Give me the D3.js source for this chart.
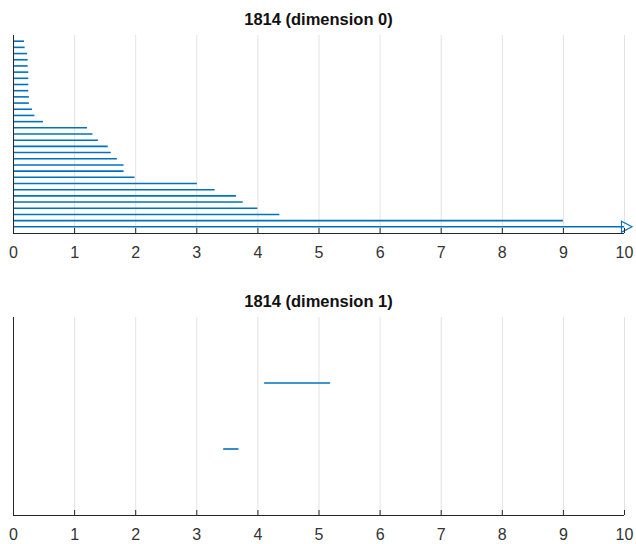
<!DOCTYPE html>
<html>
<head>
<meta charset="utf-8">
<script src="https://cdn.jsdelivr.net/npm/d3@7"></script>
<style>
  html, body { margin: 0; padding: 0; background: #fff; }
  svg { display: block; }
  text { font-family: "Liberation Sans", Arial, Helvetica, sans-serif; }
</style>
</head>
<body>
<svg id="chart" width="636" height="544"></svg>
<script>
// Persistence barcode of point cloud 1814 — each interval is [birth, death).
// Dimension 0 intervals, listed bottom to top; death = Infinity means the class never dies.
const dim0Birth = [0, 0, 0, 0, 0, 0, 0, 0, 0, 0, 0, 0, 0, 0, 0, 0, 0, 0, 0, 0, 0, 0, 0, 0, 0, 0, 0, 0, 0, 0, 0];
const dim0Death = [Infinity, 9.0, 4.36, 4.0, 3.76, 3.65, 3.30, 3.01, 1.99, 1.81, 1.81, 1.70, 1.60, 1.55, 1.39, 1.30, 1.21,
                   0.49, 0.35, 0.31, 0.26, 0.26, 0.25, 0.25, 0.25, 0.25, 0.24, 0.24, 0.23, 0.19, 0.18];
// Dimension 1 intervals, listed bottom to top.
const dim1Birth = [3.44, 4.11];
const dim1Death = [3.69, 5.19];

const xTicks = [0, 1, 2, 3, 4, 5, 6, 7, 8, 9, 10];
const xMax = 10;
const titles = ["1814 (dimension 0)", "1814 (dimension 1)"];

const svg = d3.select("#chart");
const left = 13, right = 624;
const panels = [
  { top: 35, bottom: 233, births: dim0Birth, deaths: dim0Death, title: titles[0], titleY: 25 },
  { top: 317, bottom: 515, births: dim1Birth, deaths: dim1Death, title: titles[1], titleY: 307 }
];

const barColor = "#0072BD";
const axisColor = "#262626";

panels.forEach(p => {
  const n = p.births.length;
  const x = d3.scaleLinear().domain([0, xMax]).range([left, right]);
  const y = d3.scaleLinear().domain([0, n + 1]).range([p.bottom, p.top]);
  const g = svg.append("g");

  // vertical grid
  g.selectAll("line.grid").data(xTicks).join("line")
    .attr("class", "grid")
    .attr("x1", d => x(d) + 0.5).attr("x2", d => x(d) + 0.5)
    .attr("y1", p.top).attr("y2", p.bottom)
    .attr("stroke", "#e3e3e3").attr("stroke-width", 1);

  // bars
  const idx = d3.range(n);
  g.selectAll("line.bar").data(idx).join("line")
    .attr("class", "bar")
    .attr("x1", i => x(p.births[i]))
    .attr("x2", i => x(Math.min(p.deaths[i], xMax)))
    .attr("y1", i => y(i + 1)).attr("y2", i => y(i + 1))
    .attr("stroke", barColor).attr("stroke-width", 1.6);

  // arrow marker for intervals that never die
  g.selectAll("path.inf").data(idx.filter(i => !isFinite(p.deaths[i]))).join("path")
    .attr("class", "inf")
    .attr("d", i => {
      const cx = x(xMax) + 1, cy = y(i + 1);
      return `M${cx - 3.5},${cy - 5.5}L${cx + 7},${cy}L${cx - 3.5},${cy + 5.5}Z`;
    })
    .attr("fill", "none").attr("stroke", barColor).attr("stroke-width", 1.2);

  // x axis with inward ticks
  const ax = d3.axisBottom(x).tickValues(xTicks).tickSize(-5).tickPadding(14).tickFormat(d3.format("d"));
  const axg = g.append("g").attr("transform", `translate(0,${p.bottom})`).call(ax);
  axg.select(".domain").attr("stroke", axisColor).attr("d", `M${left},0.5H${right}`);
  axg.selectAll(".tick line").attr("stroke", axisColor);
  axg.selectAll(".tick text")
    .attr("fill", "#333").attr("font-size", 16)
    .attr("font-family", "'Liberation Sans', Arial, sans-serif")
    .attr("dy", "0.71em");

  // left axis line (no ticks)
  g.append("line")
    .attr("x1", left + 0.5).attr("x2", left + 0.5)
    .attr("y1", p.top).attr("y2", p.bottom)
    .attr("stroke", axisColor).attr("stroke-width", 1);

  // title
  g.append("text")
    .attr("x", (left + right) / 2).attr("y", p.titleY)
    .attr("text-anchor", "middle")
    .attr("font-weight", "bold").attr("font-size", 16.5)
    .attr("fill", "#111")
    .text(p.title);
});
</script>
</body>
</html>
